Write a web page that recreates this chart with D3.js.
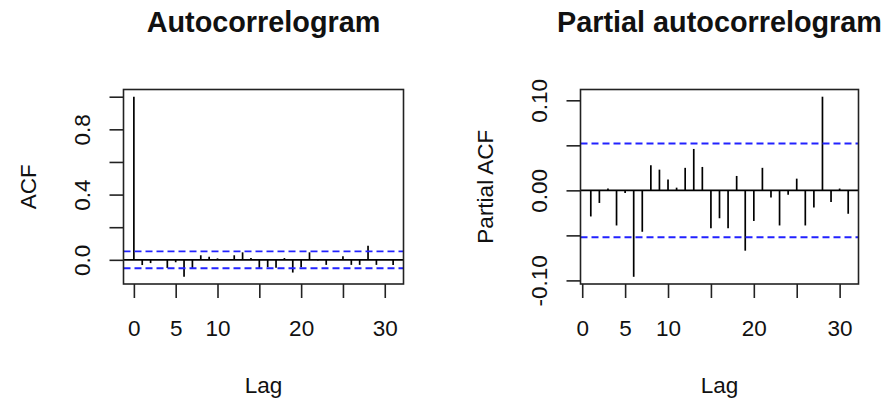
<!DOCTYPE html>
<html>
<head>
<meta charset="utf-8">
<script src="https://cdn.jsdelivr.net/npm/d3@7"></script>
<style>
  body { margin: 0; background: #fff; }
  svg text { font-family: "Liberation Sans", Arial, sans-serif; fill: #111; }
</style>
</head>
<body>
<div id="chart"></div>
<script>
// ACF values, lags 0..31
var acfLags = d3.range(0, 32);
var acfValues = [1.0, -0.032, -0.020, 0.003, -0.050, -0.015, -0.104, -0.050, 0.028, 0.019,
                 0.009, 0.003, 0.028, 0.046, 0.011, -0.052, -0.045, -0.048, 0.011, -0.078,
                 -0.045, 0.046, -0.004, -0.031, 0.003, 0.022, -0.031, -0.031, 0.086, -0.031,
                 0.002, -0.031];
// PACF values, lags 1..31
var pacfLags = d3.range(1, 32);
var pacfValues = [-0.029, -0.014, 0.002, -0.039, -0.003, -0.096, -0.046, 0.028, 0.023, 0.012,
                  0.003, 0.025, 0.046, 0.026, -0.042, -0.031, -0.042, 0.016, -0.067, -0.034,
                  0.025, -0.008, -0.039, -0.005, 0.013, -0.039, -0.019, 0.104, -0.013, 0.002,
                  -0.026];
var ciLimit = 0.052;

var xTicks = [0, 5, 10, 15, 20, 25, 30];
var xTickLabels = ["0", "5", "10", "", "20", "", "30"];
var acfYTicks = [0, 0.2, 0.4, 0.6, 0.8, 1.0];
var acfYTickLabels = ["0.0", "", "0.4", "", "0.8", ""];
var pacfYTicks = [-0.10, -0.05, 0, 0.05, 0.10];
var pacfYTickLabels = ["-0.10", "", "0.00", "", "0.10"];

var svg = d3.select("#chart").append("svg")
    .attr("width", 884)
    .attr("height", 402);

// R style: extend data range by 4% on each side
function rRange(lo, hi) {
  var ext = (hi - lo) * 0.04;
  return [lo - ext, hi + ext];
}

function corrPlot(opt) {
  var box = opt.box;
  var x = d3.scaleLinear()
      .domain(rRange(d3.min(opt.lags), d3.max(opt.lags)))
      .range([box.left, box.right]);
  var yMin = Math.min(-ciLimit, d3.min(opt.values)),
      yMax = Math.max(ciLimit, d3.max(opt.values));
  var y = d3.scaleLinear()
      .domain(rRange(yMin, yMax))
      .range([box.bottom, box.top]);

  var g = svg.append("g");

  // spikes
  g.selectAll(".spike")
      .data(opt.lags)
      .enter().append("line")
      .attr("x1", d => x(d)).attr("x2", d => x(d))
      .attr("y1", y(0))
      .attr("y2", (d, i) => y(opt.values[i]))
      .attr("stroke", "#000")
      .attr("stroke-width", 1.7);

  // zero line
  g.append("line")
      .attr("x1", box.left).attr("x2", box.right)
      .attr("y1", y(0)).attr("y2", y(0))
      .attr("stroke", "#000").attr("stroke-width", 1.7);

  // confidence limits
  [ciLimit, -ciLimit].forEach(function(c) {
    g.append("line")
        .attr("x1", box.left).attr("x2", box.right)
        .attr("y1", y(c)).attr("y2", y(c))
        .attr("stroke", "#2222ff")
        .attr("stroke-width", 1.9)
        .attr("stroke-dasharray", "7,4");
  });

  // box
  g.append("rect")
      .attr("x", box.left).attr("y", box.top)
      .attr("width", box.right - box.left)
      .attr("height", box.bottom - box.top)
      .attr("fill", "none")
      .attr("stroke", "#222")
      .attr("stroke-width", 1.6);

  // x axis
  var xAxis = g.append("g")
      .attr("transform", "translate(0," + box.bottom + ")")
      .call(d3.axisBottom(x).tickValues(xTicks).tickSize(14)
            .tickFormat((d, i) => xTickLabels[i]));
  xAxis.select(".domain").remove();
  xAxis.selectAll("line").attr("stroke", "#222").attr("stroke-width", 1.6);
  xAxis.selectAll("text")
      .attr("y", 52).attr("dy", 0)
      .attr("fill", "#111")
      .style("font-size", "22.5px");

  // y axis
  var yAxis = g.append("g")
      .attr("transform", "translate(" + box.left + ",0)")
      .call(d3.axisLeft(y).tickValues(opt.yTicks).tickSize(14)
            .tickFormat((d, i) => opt.yTickLabels[i]));
  yAxis.select(".domain").remove();
  yAxis.selectAll("line").attr("stroke", "#222").attr("stroke-width", 1.6);
  yAxis.selectAll("text")
      .attr("x", 0).attr("y", 0).attr("dy", 0)
      .attr("transform", "translate(-34,0) rotate(-90)")
      .style("text-anchor", "middle")
      .attr("fill", "#111")
      .style("font-size", "22.5px");

  var cx = (box.left + box.right) / 2,
      cy = (box.top + box.bottom) / 2;

  // title
  svg.append("text")
      .attr("x", cx).attr("y", 32)
      .style("text-anchor", "middle")
      .style("font-size", "28.8px")
      .style("font-weight", "bold")
      .text(opt.title);

  // x label
  svg.append("text")
      .attr("x", cx).attr("y", box.bottom + 109)
      .style("text-anchor", "middle")
      .style("font-size", "22.5px")
      .text("Lag");

  // y label
  svg.append("text")
      .attr("transform", "translate(" + (box.left - 88) + "," + cy + ") rotate(-90)")
      .style("text-anchor", "middle")
      .style("font-size", "22.5px")
      .text(opt.yLabel);
}

corrPlot({
  box: {left: 123.5, right: 403.5, top: 89.5, bottom: 284},
  lags: acfLags, values: acfValues,
  yTicks: acfYTicks, yTickLabels: acfYTickLabels,
  title: "Autocorrelogram", yLabel: "ACF"
});

corrPlot({
  box: {left: 580.5, right: 858.5, top: 89.5, bottom: 284},
  lags: pacfLags, values: pacfValues,
  yTicks: pacfYTicks, yTickLabels: pacfYTickLabels,
  title: "Partial autocorrelogram", yLabel: "Partial ACF"
});
</script>
</body>
</html>
